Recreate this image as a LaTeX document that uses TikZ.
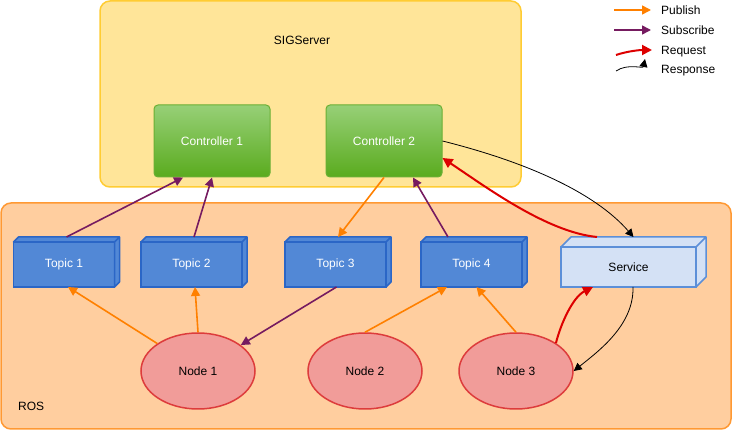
\documentclass[tikz,border=0pt]{standalone}
\usepackage{fontspec}
\setmainfont{Liberation Sans}
\usetikzlibrary{arrows.meta,shapes.geometric,calc}

\definecolor{sigfill}{HTML}{FFE599}
\definecolor{sigdraw}{HTML}{FFCC33}
\definecolor{rosfill}{HTML}{FFCE9F}
\definecolor{rosdraw}{HTML}{FF9933}
\definecolor{topicfill}{HTML}{5288D6}
\definecolor{topicdraw}{HTML}{2B66C6}
\definecolor{servfill}{HTML}{D4E1F5}
\definecolor{servdraw}{HTML}{5C8FD8}
\definecolor{nodefill}{HTML}{F19C99}
\definecolor{nodedraw}{HTML}{DD3C3C}
\definecolor{ctrltop}{HTML}{97D077}
\definecolor{ctrlbot}{HTML}{5AAB1E}
\definecolor{ctrldraw}{HTML}{6AAF35}
\definecolor{pubc}{HTML}{FF8000}
\definecolor{subc}{HTML}{761B60}
\definecolor{reqc}{HTML}{DD0000}

\begin{document}
\begin{tikzpicture}[x=1pt,y=-1pt, font=\fontsize{12pt}{14pt}\selectfont,
 container/.style={line width=1.5pt, rounded corners=10pt},
 ctrl/.style={draw=ctrldraw, line width=1pt, rounded corners=4pt, top color=ctrltop, bottom color=ctrlbot, minimum width=116pt, minimum height=72pt, text=white, inner sep=0pt},
 topic/.style={draw=topicdraw, fill=topicfill, line width=1.5pt, minimum width=101pt, minimum height=45pt, text=white, inner sep=0pt, outer sep=0pt},
 topicside/.style={draw=topicdraw, fill=topicfill, line width=1.5pt, line join=round},
 service/.style={draw=servdraw, fill=servfill, line width=1.5pt, minimum width=135pt, minimum height=40pt, inner sep=0pt, outer sep=0pt},
 serviceside/.style={draw=servdraw, fill=servfill, line width=1.5pt, line join=round},
 rosnode/.style={ellipse, draw=nodedraw, fill=nodefill, line width=1.5pt, minimum width=114pt, minimum height=76pt, inner sep=0pt},
 label/.style={inner sep=0pt},
 pub/.style={draw=pubc, line width=1.6pt, -{Triangle[length=9pt,width=9pt]}},
 sub/.style={draw=subc, line width=1.6pt, -{Triangle[length=9pt,width=9pt]}},
 req/.style={draw=reqc, line width=2pt, -{Triangle[length=10pt,width=10pt]}},
 resp/.style={draw=black, line width=0.8pt, -{Triangle[length=8pt,width=8pt]}},
]
\useasboundingbox (0,0) rectangle (732,430);

% containers
\draw[container, draw=sigdraw, fill=sigfill] (100,1) rectangle (521,187);
\draw[container, draw=rosdraw, fill=rosfill] (1,203) rectangle (731,429);
\node[label] (siglabel) at (302,40) {SIGServer};
\node[label, anchor=west] (roslabel) at (18,406) {ROS};

% controllers
\node[ctrl] (c1) at (212,141) {Controller 1};
\node[ctrl] (c2) at (384,141) {Controller 2};

% topics
\node[topic] (t1) at (64,264.5) {Topic 1};
\node[topic] (t2) at (191.5,264.5) {Topic 2};
\node[topic] (t3) at (335.5,264.5) {Topic 3};
\node[topic] (t4) at (471.5,264.5) {Topic 4};
\foreach \n in {t1,t2,t3,t4}{
  \filldraw[topicside] (\n.north west) -- ++(5,-5) -- ([shift={(5,-5)}]\n.north east) -- ([shift={(5,-5)}]\n.south east) -- (\n.south east) -- (\n.north east) -- cycle (\n.north east) -- ++(5,-5);
}

% service
\node[service] (s) at (628.5,267) {Service};
\filldraw[serviceside] (s.north west) -- ++(10,-10) -- ([shift={(10,-10)}]s.north east) -- ([shift={(10,-10)}]s.south east) -- (s.south east) -- (s.north east) -- cycle (s.north east) -- ++(10,-10);

% ROS nodes
\node[rosnode] (n1) at (198,371) {Node 1};
\node[rosnode] (n2) at (365,371) {Node 2};
\node[rosnode] (n3) at (516,371) {Node 3};

% subscribe
\draw[sub] ([shift={(2.5,-5)}]t1.north) -- ([shift={(-29,0)}]c1.south);
\draw[sub] ([shift={(2.5,-5)}]t2.north) -- (c1.south);
\draw[sub] ([shift={(-23.5,-5)}]t4.north) -- ([shift={(29,0)}]c2.south);
\draw[sub] ([shift={(1,0)}]t3.south) -- (n1);

% publish
\draw[pub] (c2.south) -- ([shift={(2.5,-5)}]t3.north);
\draw[pub] (n1.146) -- ([shift={(4,0)}]t1.south);
\draw[pub] (n1.north) -- ([shift={(3.5,0)}]t2.south);
\draw[pub] (n2.north) -- ([shift={(-24.5,0)}]t4.south);
\draw[pub] (n3.north) -- ([shift={(5,0)}]t4.south);

% request / response
\draw[req] ([shift={(-31.5,-10)}]s.north) .. controls +(-50,-5) and +(45,30) .. ([shift={(0,17)}]c2.east);
\draw[resp] (c2.east) .. controls +(80,20) and +(-40,-46) .. ([shift={(5,-10)}]s.north);
\draw[req] (n3.35) .. controls +(5,-20) and +(-20,10) .. ([shift={(-35.5,0)}]s.south);
\draw[resp] ([shift={(4.5,0)}]s.south) .. controls +(1,38) and +(25,-20) .. (n3.east);

% legend
\coordinate (lpa) at (614,10);  \coordinate (lpb) at (651,10);
\coordinate (lsa) at (614,30);  \coordinate (lsb) at (651,30);
\coordinate (lqa) at (616,55);  \coordinate (lqb) at (652,50);
\coordinate (lra) at (616,71);  \coordinate (lrb) at (645,59);
\draw[pub] (lpa) -- (lpb);
\draw[sub] (lsa) -- (lsb);
\draw[req] (lqa) .. controls +(12,-4) and +(-12,0) .. (lqb);
\draw[resp] (lra) .. controls +(12,-8) and +(-2,10) .. (lrb);
\node[label, anchor=base west] (lpt) at (661,15) {Publish};
\node[label, anchor=base west] (lst) at (661,34.3) {Subscribe};
\node[label, anchor=base west] (lqt) at (661,55) {Request};
\node[label, anchor=base west] (lrt) at (661,74) {Response};
\end{tikzpicture}
\end{document}
